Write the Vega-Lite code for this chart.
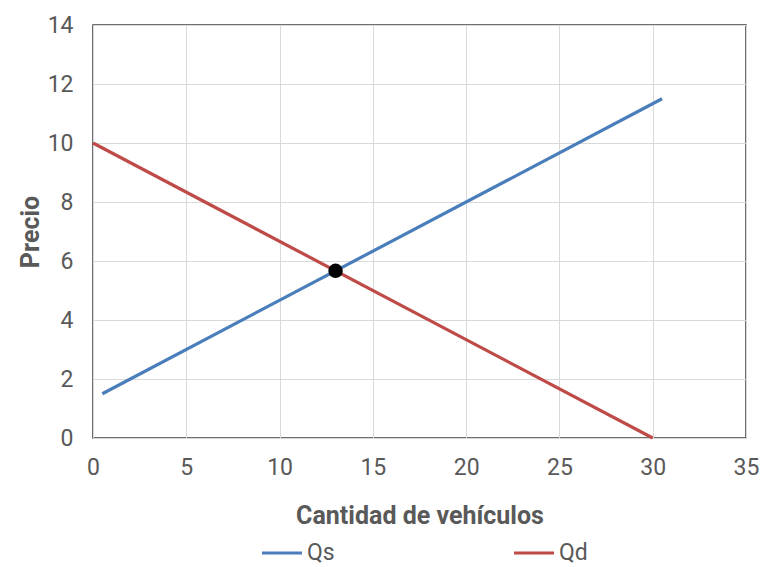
{
  "$schema": "https://vega.github.io/schema/vega-lite/v6.json",
  "width": 653,
  "height": 413,
  "autosize": {"type": "none"},
  "padding": {"left": 93, "top": 25, "right": 16, "bottom": 129},
  "background": "white",
  "config": {
    "font": "Roboto",
    "view": {"stroke": "#404040", "strokeWidth": 1.5},
    "axis": {
      "domain": false,
      "ticks": false,
      "labelFlush": false,
      "gridColor": "#d9d9d9",
      "gridWidth": 1,
      "labelFont": "Roboto",
      "labelFontSize": 23,
      "labelColor": "#595959",
      "titleFont": "Roboto",
      "titleFontSize": 25,
      "titleFontWeight": "bold",
      "titleColor": "#595959"
    }
  },
  "datasets": {
    "lines": [
      {"serie": "Qs", "cantidad": 0.5, "precio": 1.5},
      {"serie": "Qs", "cantidad": 30.5, "precio": 11.5},
      {"serie": "Qd", "cantidad": 0, "precio": 10},
      {"serie": "Qd", "cantidad": 30, "precio": 0}
    ],
    "eq": [{"cantidad": 13, "precio": 5.667}]
  },
  "layer": [
    {
      "data": {"name": "lines"},
      "mark": {"type": "line", "strokeWidth": 3.2},
      "encoding": {
        "x": {
          "field": "cantidad", "type": "quantitative",
          "scale": {"domain": [0, 35], "nice": false},
          "axis": {"values": [0, 5, 10, 15, 20, 25, 30, 35], "labelPadding": 18, "title": "Cantidad de vehículos", "titlePadding": 24}
        },
        "y": {
          "field": "precio", "type": "quantitative",
          "scale": {"domain": [0, 14], "nice": false},
          "axis": {"values": [0, 2, 4, 6, 8, 10, 12, 14], "labelPadding": 20, "title": "Precio", "titlePadding": 4}
        },
        "color": {
          "field": "serie", "type": "nominal",
          "scale": {"domain": ["Qs", "Qd"], "range": ["#4a7ebb", "#be4b48"]},
          "legend": {
            "title": null,
            "orient": "none",
            "direction": "horizontal",
            "legendX": 167,
            "legendY": 506,
            "symbolType": "stroke",
            "symbolSize": 1600,
            "symbolStrokeWidth": 3.2,
            "labelFont": "Roboto",
            "labelFontSize": 23,
            "labelColor": "#595959",
            "labelOffset": 3,
            "columnPadding": 172
          }
        }
      }
    },
    {
      "data": {"name": "eq"},
      "mark": {"type": "point", "filled": true, "color": "black", "size": 210, "opacity": 1},
      "encoding": {
        "x": {"field": "cantidad", "type": "quantitative"},
        "y": {"field": "precio", "type": "quantitative"}
      }
    }
  ]
}
